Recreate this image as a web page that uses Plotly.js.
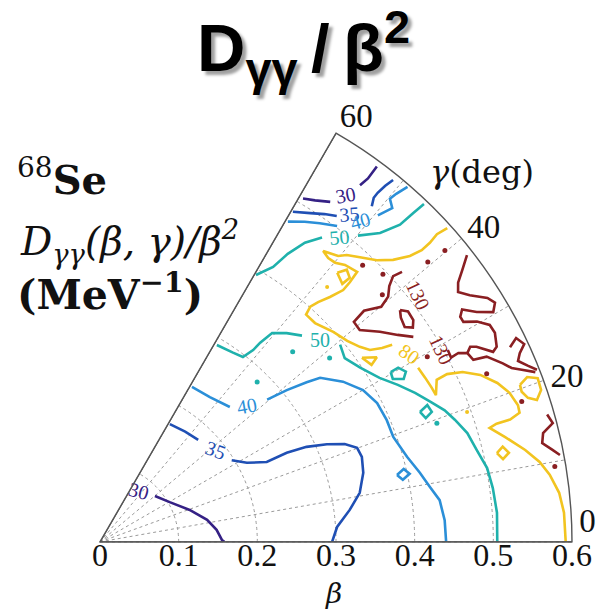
<!DOCTYPE html>
<html><head><meta charset="utf-8">
<script src="https://cdn.plot.ly/plotly-3.0.1.min.js"></script>
<style>html,body{margin:0;padding:0;background:#fff}</style>
</head><body><div id="chart" style="width:597px;height:612px"></div>
<script>
// ---- data: contour paths of D_gg/beta^2 in (beta, gamma[deg]) ----
const c30_lo_b = [0.091,0.102,0.121,0.139,0.149,0.155,0.158];
const c30_lo_g = [39.9,29.7,19.6,11.6,5.9,0.9,0];
const c30_up1_b = [0.507,0.513,0.522];
const c30_up1_g = [59.4,57.8,55.9];
const c30_up2_b = [0.561,0.574,0.593];
const c30_up2_g = [53.9,53.6,53.6];

const c35_lo1_b = [0.174,0.177,0.180];
const c35_lo1_g = [59.3,52.3,46.1];
const c35_lo2_b = [0.197,0.212,0.235,0.263,0.289,0.314,0.335,0.348,0.350,0.346,0.336,0.320,0.302,0.295];
const c35_lo2_g = [31.8,28.3,25.6,25.5,24.7,23.3,21.8,20.1,18.0,14.7,10.7,7.3,3.6,0];
const c35_up1_b = [0.486,0.496,0.505,0.512];
const c35_up1_g = [59.7,57.4,55.6,54.0];
const c35_up2_b = [0.549,0.559,0.567,0.580,0.592];
const c35_up2_g = [51.0,51.5,51.5,51.3,51.0];

const c40_lo1_b = [0.229,0.231,0.238];
const c40_lo1_g = [59.3,52.8,46.1];
const c40_lo2_b = [0.279,0.306,0.332,0.349,0.370,0.386,0.394,0.396,0.396,0.405,0.416,0.425,0.435,0.439,0.440];
const c40_lo2_g = [40.4,39.1,37.7,36.7,33.4,30.0,26.6,23.0,19.7,15.5,12.2,9.5,7.0,3.6,0];
const c40_isl_b = [0.387,0.397,0.403,0.393,0.387];
const c40_isl_g = [12.7,13.5,12.4,11.6,12.7];
const c40_up1_b = [0.472,0.483,0.492,0.502];
const c40_up1_g = [59.6,57.4,55.4,53.1];
const c40_up2_b = [0.545,0.564,0.571,0.581,0.597];
const c40_up2_g = [49.6,48.8,49.8,49.6,49.1];

const c50_lo1_b = [0.291,0.294,0.297,0.312,0.325,0.344,0.356,0.367];
const c50_lo1_g = [59.3,54.9,52.3,51.4,51.2,50.5,48.2,45.6];
const c50_lo2_b = [0.395,0.389,0.398,0.412,0.428,0.443,0.456,0.469,0.477,0.487,0.493,0.501,0.504,0.506,0.505];
const c50_lo2_g = [39.4,36.9,33.8,30.4,27.8,25.3,23.0,20.9,19.0,16.5,13.7,10.8,7.8,4.2,0];
const c50_up1_b = [0.393,0.413,0.437,0.461,0.479];
const c50_up1_g = [59.7,57.8,56.9,55.6,53.9];
const c50_up2_b = [0.509,0.530,0.555,0.577,0.595];
const c50_up2_g = [49.9,47.8,46.6,46.4,46.2];
const c50_oval_b = [0.428,0.439,0.445,0.438,0.426,0.428];
const c50_oval_g = [30.3,30.3,29.1,28.2,29.1,30.3];
const c50_dia_b = [0.439,0.451,0.453,0.443,0.439];
const c50_dia_g = [22.1,22.7,21.4,20.8,22.1];
const c50_dot_b = [0.285,0.344,0.374,0.454];
const c50_dot_g = [45.5,44.6,38.7,19.4];

const c80_up_b = [0.595,0.580,0.566,0.552,0.536,0.517,0.502,0.490,0.481,0.473,0.466,0.463,0.464,0.470,0.474,0.458,0.445,0.427,0.412,0.401,0.390,0.390,0.399,0.405,0.413,0.421,0.435,0.448];
const c80_up_g = [42.1,42.4,42.2,42.2,42.7,43.9,45.5,47.6,49.3,50.2,52.5,51.2,49.9,48.5,46.4,46.1,46.0,46.8,47.7,48.2,47.8,45.5,42.0,39.1,36.9,35.4,34.5,34.0];
const c80_lo_b = [0.461,0.463,0.465,0.466,0.475,0.490,0.509,0.528,0.544,0.554,0.559,0.558,0.544,0.526,0.516,0.532,0.553,0.568,0.578,0.587,0.591,0.592];
const c80_lo_g = [28.7,26.8,24.9,23.6,25.7,25.8,25.1,23.7,21.8,20.0,18.1,17.1,16.6,16.6,16.3,14.5,12.2,10.3,8.5,6.1,3.6,0];
const c80_in_b = [0.456,0.467,0.462,0.450,0.456];
const c80_in_g = [48.6,47.8,46.6,46.8,48.6];
const c80_tri_b = [0.407,0.423,0.412,0.407];
const c80_tri_g = [35.1,33.7,33.1,35.1];
const c80_arc_b = [0.570,0.582,0.594,0.593,0.584,0.574,0.569,0.570];
const c80_arc_g = [20.5,21.1,20.5,19.0,18.0,18.6,19.6,20.5];
const c80_dia_b = [0.517,0.526,0.532,0.523,0.517];
const c80_dia_g = [12.6,13.3,12.3,11.6,12.6];
const c80_dot_b = [0.495,0.434];
const c80_dot_g = [19.5,48.3];

const c130_a_b = [0.515,0.503,0.491,0.481,0.466,0.446,0.427,0.426,0.445,0.461,0.476];
const c130_a_g = [41.8,42.2,41.5,40.4,39.9,41.2,40.9,39.2,36.9,34.8,33.2];
const c130_in_b = [0.482,0.489,0.488,0.482,0.474,0.477,0.482];
const c130_in_g = [37.7,36.8,35.3,34.4,35.2,36.7,37.7];
const c130_b_b = [0.505,0.504,0.515,0.525,0.528,0.545,0.560,0.568,0.579,0.594];
const c130_b_g = [28.9,27.7,27.8,27.2,26.0,25.6,23.9,22.9,22.2,21.3];
const c130_c_b = [0.592,0.576,0.562,0.555,0.565,0.582,0.587,0.579,0.561,0.547,0.540,0.540,0.555,0.567,0.568,0.562,0.555,0.539,0.532,0.525];
const c130_c_g = [38.0,36.9,35.9,34.9,33.7,32.2,31.2,30.3,31.4,32.7,32.0,31.2,30.3,29.1,27.9,26.2,25.8,27.4,27.8,27.2];
const c130_d_b = [0.577,0.589,0.595,0.585,0.579,0.588,0.597];
const c130_d_g = [25.4,26.1,25.0,24.2,23.4,22.4,21.5];
const c130_e_b = [0.591,0.595,0.580,0.576,0.587,0.595];
const c130_e_g = [15.9,14.7,13.8,12.6,11.5,10.7];
const c130_dot_b = [0.586,0.565,0.536,0.478,0.574,0.548,0.485,0.495,0.477];
const c130_dot_g = [9.4,18.4,23.5,29.5,40.2,40.5,46.5,43.4,41.2];

// contour labels
const lblText = ['30','35','40','50','30','35','40','50','80','130','130'];
const lblLevel = [30,35,40,50,30,35,40,50,80,130,130];
const lblB = [0.078,0.184,0.254,0.378,0.539,0.522,0.525,0.491,0.455,0.507,0.492];
const lblG = [53.0,38.5,42.2,42.3,54.4,52.5,50.6,51.6,31.5,38.6,30.1];

// axis ticks
const betaTicks = [0,0.1,0.2,0.3,0.4,0.5,0.6];
const betaTickText = ['0','0.1','0.2','0.3','0.4','0.5','0.6'];
const gammaTicks = [0,20,40,60];
const gammaTickText = ['0<br>\u00a0','20','40','60'];
const gammaMinorRays = [10,30,50];

// ---- styles ----
const col = {30:'#352185', 35:'#1f4fb4', 40:'#2b8fd8', 50:'#1fb1ac', 80:'#f2c420', 130:'#8a1f22'};
const lblRot = [15,20,-10,0,-10,-5,-15,-5,35,65,65];
const gridCol = '#9a9a9a';

function ln(b,g,lev){return {type:'scatterpolar',r:b,theta:g,mode:'lines',line:{color:col[lev],width:2.6},hoverinfo:'skip'};}
function dots(b,g,lev,sz){return {type:'scatterpolar',r:b,theta:g,mode:'markers',marker:{color:col[lev],size:sz},hoverinfo:'skip'};}

const traces = [];
gammaMinorRays.forEach(function(a){
  traces.push({type:'scatterpolar',r:[0,0.6],theta:[a,a],mode:'lines',line:{color:gridCol,width:1,dash:'dot'},hoverinfo:'skip'});
});
traces.push({type:'scatterpolar',r:[0,0.6],theta:[60,60],mode:'lines',line:{color:'#555',width:1.4},hoverinfo:'skip'});
traces.push(
  ln(c30_lo_b,c30_lo_g,30), ln(c30_up1_b,c30_up1_g,30), ln(c30_up2_b,c30_up2_g,30),
  ln(c35_lo1_b,c35_lo1_g,35), ln(c35_lo2_b,c35_lo2_g,35), ln(c35_up1_b,c35_up1_g,35), ln(c35_up2_b,c35_up2_g,35),
  ln(c40_lo1_b,c40_lo1_g,40), ln(c40_lo2_b,c40_lo2_g,40), ln(c40_isl_b,c40_isl_g,40), ln(c40_up1_b,c40_up1_g,40), ln(c40_up2_b,c40_up2_g,40),
  ln(c50_lo1_b,c50_lo1_g,50), ln(c50_lo2_b,c50_lo2_g,50), ln(c50_up1_b,c50_up1_g,50), ln(c50_up2_b,c50_up2_g,50),
  ln(c50_oval_b,c50_oval_g,50), ln(c50_dia_b,c50_dia_g,50), dots(c50_dot_b,c50_dot_g,50,5),
  ln(c80_up_b,c80_up_g,80), ln(c80_lo_b,c80_lo_g,80), ln(c80_in_b,c80_in_g,80), ln(c80_tri_b,c80_tri_g,80),
  ln(c80_arc_b,c80_arc_g,80), ln(c80_dia_b,c80_dia_g,80), dots(c80_dot_b,c80_dot_g,80,4),
  ln(c130_a_b,c130_a_g,130), ln(c130_in_b,c130_in_g,130), ln(c130_b_b,c130_b_g,130), ln(c130_c_b,c130_c_g,130),
  ln(c130_d_b,c130_d_g,130), ln(c130_e_b,c130_e_g,130), dots(c130_dot_b,c130_dot_g,130,5),
  {type:'scatterpolar',r:lblB,theta:lblG,mode:'text',text:lblText,
   textfont:{family:'Liberation Serif, serif',size:20,color:lblLevel.map(l=>col[l])},hoverinfo:'skip'},
  // radial (beta) tick labels under the axis
  {type:'scatterpolar',r:betaTicks,theta:betaTicks.map(()=>0),mode:'text',text:betaTickText,textposition:'bottom center',
   cliponaxis:false,textfont:{family:'Liberation Serif, serif',size:32,color:'#111'},hoverinfo:'skip'}
);

const serif = 'DejaVu Serif, serif';
const T = '\u2009';
const layout = {
  width:597, height:612, margin:{l:0,r:0,t:0,b:0}, showlegend:false,
  paper_bgcolor:'#fff',
  polar:{
    domain:{x:[100/597,572/597], y:[1-542/612,1-133/612]},
    sector:[0,60], bgcolor:'#fff', hole:0,
    radialaxis:{range:[0,0.6], tickvals:betaTicks, showticklabels:false, angle:0, side:'clockwise',
      showline:true, linecolor:'#555', linewidth:1.4, ticks:'', gridcolor:gridCol, gridwidth:1, griddash:'dot'},
    angularaxis:{tickvals:gammaTicks, ticktext:gammaTickText, direction:'counterclockwise', rotation:0,
      showline:true, linecolor:'#555', linewidth:1.4, ticks:'', gridcolor:gridCol, gridwidth:1, griddash:'dot',
      tickfont:{family:'Liberation Serif, serif', size:33, color:'#111'}}
  },
  annotations:[
    {text:'<b>D<sub>γγ</sub>'+T+'/'+T+'β<sup>2</sup></b>', xref:'paper', yref:'paper', x:303/597, y:1-48/612,
     xanchor:'center', yanchor:'middle', showarrow:false,
     font:{family:'Liberation Sans Narrow, Liberation Sans, Arial, sans-serif', size:67, color:'#000', shadow:'4px 4px 3px #a0a0a0'}},
    {text:'<sup>68</sup><b>Se</b>', xref:'paper', yref:'paper', x:15/597, y:1-177/612, xanchor:'left', yanchor:'middle',
     showarrow:false, font:{family:serif, size:40, color:'#111'}},
    {text:'<i>D<sub>γγ</sub>(β, γ)/β<sup>2</sup></i>', xref:'paper', yref:'paper', x:18/597, y:1-242/612, xanchor:'left', yanchor:'middle',
     showarrow:false, font:{family:serif, size:39, color:'#111'}},
    {text:'<b>(MeV<sup>−1</sup>)</b>', xref:'paper', yref:'paper', x:15/597, y:1-292/612, xanchor:'left', yanchor:'middle',
     showarrow:false, font:{family:serif, size:41, color:'#111'}},
    {text:'<i>γ</i>(deg)', xref:'paper', yref:'paper', x:482/597, y:1-172/612, xanchor:'center', yanchor:'middle',
     showarrow:false, font:{family:serif, size:32, color:'#111'}},
    {text:'<i>β</i>', xref:'paper', yref:'paper', x:333/597, y:1-593/612, xanchor:'center', yanchor:'middle',
     showarrow:false, font:{family:serif, size:28, color:'#111'}}
  ]
};

Plotly.newPlot('chart', traces, layout, {staticPlot:true}).then(function(gd){
  const texts = gd.querySelectorAll('.scatterlayer g.textpoint text');
  texts.forEach(function(t,i){
    if(i < lblRot.length){
      const x = t.getAttribute('x'), y = t.getAttribute('y');
      t.setAttribute('transform','rotate('+lblRot[i]+' '+x+' '+y+')');
    }
  });
});
</script></body></html>
